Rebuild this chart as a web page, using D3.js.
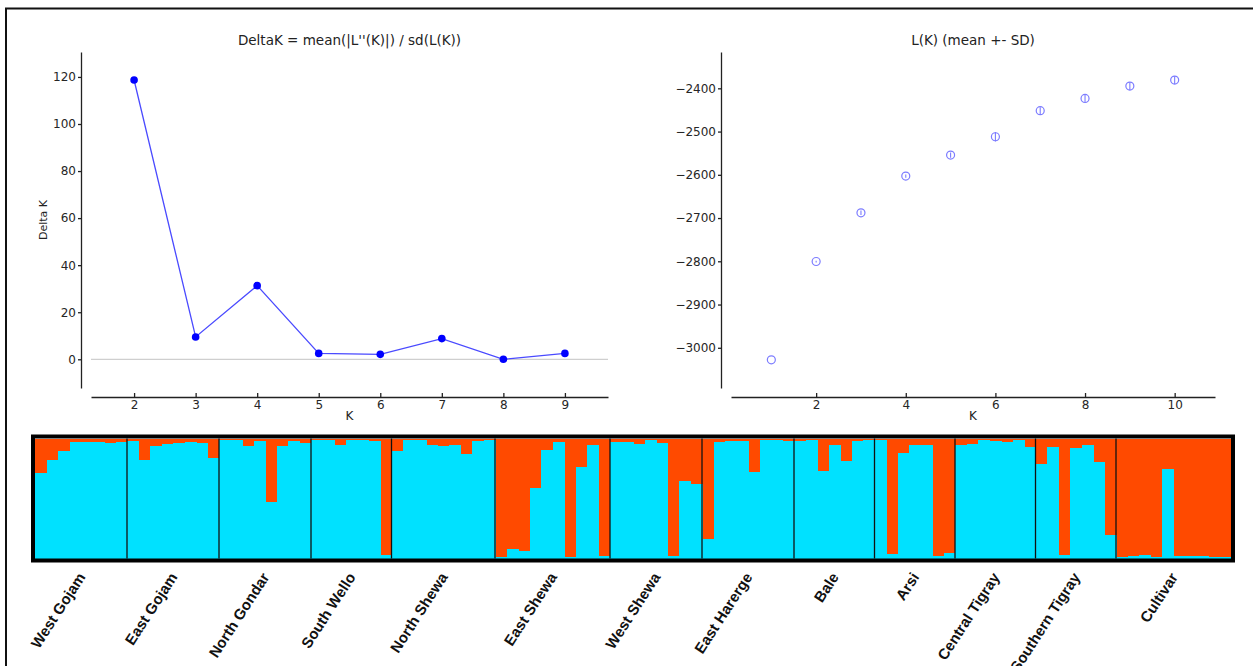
<!DOCTYPE html>
<html>
<head>
<meta charset="utf-8">
<script src="https://cdn.jsdelivr.net/npm/d3@7"></script>
<style>
    body { margin: 0; background: #fff; }
    svg { display: block; font-family: "DejaVu Sans", sans-serif; }
    .axis path, .axis line { stroke: #222; stroke-width: 1.3; }
    .axis text { fill: #262626; font-size: 12px; font-family: "DejaVu Sans", sans-serif; }
</style>
</head>
<body>
<svg id="fig" width="1253" height="666"></svg>
<script>
// Evanno deltaK
const deltaK_K = [2, 3, 4, 5, 6, 7, 8, 9];
const deltaK = [118.7, 9.5, 31.3, 2.5, 2.1, 8.8, 0.0, 2.5];

// mean likelihood L(K) and its SD
const lnK_K = [1, 2, 3, 4, 5, 6, 7, 8, 9, 10];
const lnK_mean = [-3027.8, -2800.5, -2687.8, -2603, -2554.3, -2512, -2451.8, -2423.3, -2394.8, -2381];
const lnK_sd = [0, 2, 5, 4, 6, 11, 8, 8, 9, 9];

const deltaTicks = [0, 20, 40, 60, 80, 100, 120];
const lnTicks = [-3000, -2900, -2800, -2700, -2600, -2500, -2400];
const lnXTicks = [2, 4, 6, 8, 10];

// STRUCTURE K=2, share of cluster 1 (cyan) per individual, grouped by population
const populations = ['West Gojam', 'East Gojam', 'North Gondar', 'South Wello', 'North Shewa',
    'East Shewa', 'West Shewa', 'East Harerge', 'Bale', 'Arsi', 'Central Tigray',
    'Southern Tigray', 'Cultivar'];
const q1 = [
    [0.712, 0.823, 0.897, 0.972, 0.967, 0.975, 0.961, 0.97],
    [0.98, 0.82, 0.94, 0.955, 0.96, 0.97, 0.965, 0.84],
    [0.99, 0.99, 0.94, 0.98, 0.47, 0.94, 0.98, 0.965],
    [0.99, 0.99, 0.95, 0.99, 0.985, 0.98, 0.03],
    [0.895, 0.99, 0.99, 0.945, 0.934, 0.942, 0.867, 0.98, 0.99],
    [0.01, 0.08, 0.06, 0.587, 0.906, 0.967, 0.01, 0.76, 0.95, 0.02],
    [0.972, 0.967, 0.956, 0.986, 0.961, 0.017, 0.645, 0.623],
    [0.163, 0.97, 0.98, 0.98, 0.723, 0.99, 0.99, 0.98],
    [0.983, 0.986, 0.726, 0.947, 0.809, 0.978, 0.99],
    [0.99, 0.04, 0.878, 0.947, 0.947, 0.02, 0.047],
    [0.942, 0.953, 0.99, 0.978, 0.975, 0.986, 0.931],
    [0.787, 0.931, 0.033, 0.925, 0.947, 0.803, 0.197],
    [0.014, 0.025, 0.03, 0.014, 0.745, 0.017, 0.017, 0.02, 0.014, 0.011]
];

const svg = d3.select('#fig');

// page border
svg.append('rect')
    .attr('x', 6).attr('y', 8.5)
    .attr('width', 1300).attr('height', 700)
    .attr('fill', 'none').attr('stroke', '#111').attr('stroke-width', 2);

function panel(xDomain, xRange, yDomain, yTicks, xTicks, title, ylabel) {
    let x = d3.scaleLinear().domain(xDomain).range(xRange);
    let y = d3.scaleLinear().domain(yDomain).range([388, 52]);

    // despined axes, offset 10px
    svg.append('g')
        .attr('class', 'axis')
        .attr('transform', 'translate(' + (xRange[0] - 10) + ',0)')
        .call(d3.axisLeft(y).tickValues(yTicks).tickFormat(d3.format('d'))
            .tickSizeInner(3).tickSizeOuter(0).tickPadding(2));

    svg.append('g')
        .attr('class', 'axis')
        .attr('transform', 'translate(0,397)')
        .call(d3.axisBottom(x).tickValues(xTicks).tickFormat(d3.format('d'))
            .tickSizeInner(-4).tickSizeOuter(0).tickPadding(3));

    let cx = (xRange[0] + xRange[1]) / 2;
    svg.append('text')
        .attr('x', cx).attr('y', 45)
        .attr('text-anchor', 'middle')
        .style('font-size', '13.5px').attr('fill', '#222')
        .text(title);
    svg.append('text')
        .attr('x', cx).attr('y', 420)
        .attr('text-anchor', 'middle')
        .style('font-size', '12px').attr('fill', '#222')
        .text('K');
    if (ylabel) {
        svg.append('text')
            .attr('transform', 'translate(47,220) rotate(-90)')
            .attr('text-anchor', 'middle')
            .style('font-size', '11px').attr('fill', '#222')
            .text(ylabel);
    }
    return {x: x, y: y};
}

// left: deltaK
let p1 = panel([1.3, 9.7], [91, 608], [-12.2, 130.6], deltaTicks, deltaK_K,
    "DeltaK = mean(|L''(K)|) / sd(L(K))", 'Delta K');

svg.append('line')
    .attr('x1', 91).attr('x2', 608)
    .attr('y1', p1.y(0)).attr('y2', p1.y(0))
    .attr('stroke', '#cfcfcf').attr('stroke-width', 1.2);

let dkLine = d3.line()
    .x(function(d, i) { return p1.x(deltaK_K[i]); })
    .y(function(d) { return p1.y(d); });

svg.append('path')
    .datum(deltaK)
    .attr('d', dkLine)
    .attr('fill', 'none')
    .attr('stroke', '#4a4aff')
    .attr('stroke-width', 1.3);

svg.append('g').selectAll('circle')
    .data(deltaK)
    .enter().append('circle')
    .attr('cx', function(d, i) { return p1.x(deltaK_K[i]); })
    .attr('cy', function(d) { return p1.y(d); })
    .attr('r', 3.8)
    .attr('fill', '#0000ff');

// right: L(K)
let p2 = panel([0.1, 10.9], [731, 1215], [-3093, -2316], lnTicks, lnXTicks,
    'L(K) (mean +- SD)', null);

let pts = svg.append('g').selectAll('g')
    .data(lnK_mean)
    .enter().append('g');

pts.append('line')
    .attr('x1', function(d, i) { return p2.x(lnK_K[i]); })
    .attr('x2', function(d, i) { return p2.x(lnK_K[i]); })
    .attr('y1', function(d, i) { return p2.y(d - lnK_sd[i]); })
    .attr('y2', function(d, i) { return p2.y(d + lnK_sd[i]); })
    .attr('stroke', '#7c7cff').attr('stroke-width', 1.1);

pts.append('circle')
    .attr('cx', function(d, i) { return p2.x(lnK_K[i]); })
    .attr('cy', function(d) { return p2.y(d); })
    .attr('r', 4)
    .attr('fill', 'none')
    .attr('stroke', '#7c7cff')
    .attr('stroke-width', 1.2);

// STRUCTURE bar plot
const allQ = q1.flat();
let xs = d3.scaleBand().domain(d3.range(allQ.length)).range([35, 1231]).padding(0);
let ys = d3.scaleLinear().domain([0, 1]).range([558.5, 438.5]);

let bars = svg.append('g').attr('shape-rendering', 'crispEdges');
bars.selectAll('.bg')
    .data(allQ)
    .enter().append('rect')
    .attr('x', function(d, i) { return xs(i); })
    .attr('y', ys(1))
    .attr('width', xs.bandwidth() + 0.6)
    .attr('height', ys(0) - ys(1))
    .attr('fill', '#ff4a00');
bars.selectAll('.fg')
    .data(allQ)
    .enter().append('rect')
    .attr('x', function(d, i) { return xs(i); })
    .attr('y', function(d) { return ys(d); })
    .attr('width', xs.bandwidth() + 0.6)
    .attr('height', function(d) { return ys(0) - ys(d); })
    .attr('fill', '#00e1ff');

// population boundaries and labels
let starts = [];
let acc = 0;
q1.forEach(function(g) { starts.push(acc); acc += g.length; });

svg.append('g').selectAll('line')
    .data(starts.slice(1))
    .enter().append('line')
    .attr('x1', function(d) { return xs(d); })
    .attr('x2', function(d) { return xs(d); })
    .attr('y1', ys(1)).attr('y2', ys(0))
    .attr('stroke', '#111').attr('stroke-width', 1.3);

svg.append('rect')
    .attr('x', 33).attr('y', 436.5)
    .attr('width', 1200).attr('height', 124)
    .attr('fill', 'none').attr('stroke', '#000').attr('stroke-width', 4);

svg.append('g').selectAll('text')
    .data(populations)
    .enter().append('text')
    .attr('transform', function(d, i) {
        let c = xs(starts[i]) + xs.bandwidth() * q1[i].length / 2 + 5;
        return 'translate(' + c + ',577) rotate(-57)';
    })
    .attr('text-anchor', 'end')
    .style('font-family', '"Liberation Sans", Arial, sans-serif')
    .style('font-weight', 'bold')
    .style('font-size', '15px')
    .attr('fill', '#111')
    .text(function(d) { return d; });
</script>
</body>
</html>
